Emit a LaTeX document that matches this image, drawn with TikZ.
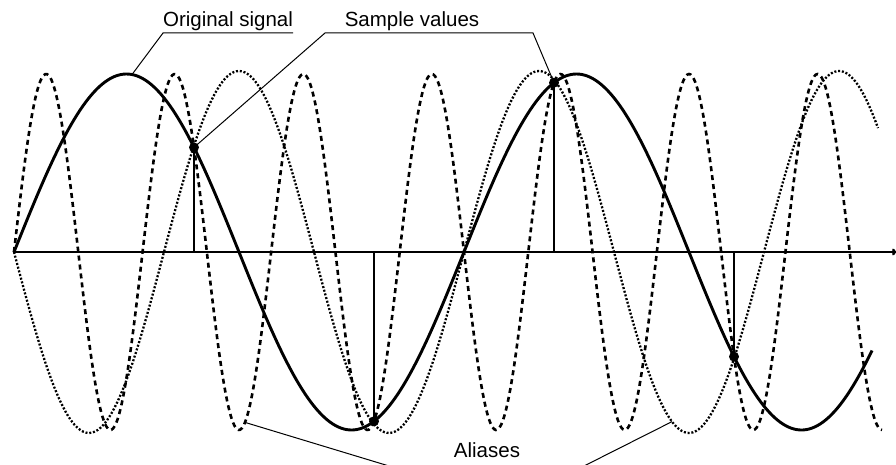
\documentclass[tikz,border=0pt]{standalone}
\usepackage{fontspec}
\setmainfont{Liberation Sans}
\usetikzlibrary{arrows.meta}
\begin{document}
\begin{tikzpicture}[x=1pt,y=-1pt,
  sig/.style={line width=2.9pt},
  dashsig/.style={line width=2.6pt, dash pattern=on 5pt off 4pt},
  dotsig/.style={line width=2.3pt, dash pattern=on 2pt off 1.8pt},
  axisline/.style={line width=2.4pt,-{To[length=4pt,width=7pt]}},
  stem/.style={line width=2.4pt},
  sdot/.style={circle,fill=black,inner sep=0pt,minimum size=10pt},
  leader/.style={line width=1pt},
  lbl/.style={font=\fontsize{20.5}{24}\selectfont, inner sep=0pt}]
\useasboundingbox (0,0) rectangle (896,465);
% curves
\draw[dotsig] plot[domain=14:878, samples=300, smooth] (\x, {252+181*sin(1.2*(\x-14))});
\draw[dashsig] plot[domain=14:882, samples=500, smooth] (\x, {252-178*sin(2.8*(\x-14))});
\draw[sig] plot[domain=14:872, samples=300, smooth] (\x, {252-178*sin(0.8*(\x-14))});
% axis
\coordinate (ax0) at (14,252);
\coordinate (ax1) at (896,252);
\draw[axisline] (ax0) -- (ax1);
% samples
\node[sdot] (s1) at (194, {252-178*sin(144)}) {};
\node[sdot] (s2) at (374, {252-178*sin(288)}) {};
\node[sdot] (s3) at (554, {252-178*sin(432)}) {};
\node[sdot] (s4) at (734, {252-178*sin(576)}) {};
\foreach \s in {s1,s2,s3,s4} \draw[stem] (\s.center |- ax0) -- (\s.center);
% labels
\node[lbl, anchor=base] (orig) at (228,27) {Original signal};
\node[lbl, anchor=base] (samp) at (412,27) {Sample values};
\node[lbl, anchor=base] (alias) at (487,457) {Aliases};
% leaders
\coordinate (oL) at (163,33);
\coordinate (oR) at (293,33);
\coordinate (opk) at (132, {252-178*sin(0.8*118)});
\draw[leader] (oR) -- (oL) -- (opk);
\coordinate (svL) at (325,33);
\coordinate (svR) at (533,33);
\draw[leader] (s1.center) -- (svL) -- (svR) -- (s3.center);
\coordinate (a1) at (245, {252-178*sin(2.8*231)});
\coordinate (a2) at (672, {252+181*sin(1.2*658)});
\coordinate (aL) at (389,466);
\coordinate (aR) at (584,466);
\draw[leader] (a1) -- (aL);
\draw[leader] (a2) -- (aR);
\end{tikzpicture}
\end{document}
